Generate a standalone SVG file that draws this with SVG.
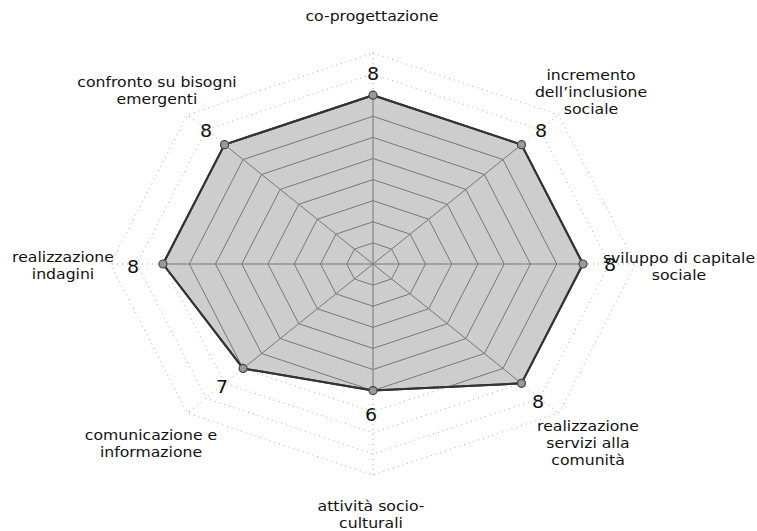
<svg xmlns="http://www.w3.org/2000/svg" xmlns:xlink="http://www.w3.org/1999/xlink" width="757" height="531" viewBox="0 0 757 531">
  <style>
    .lbl { font-family: "DejaVu Sans", "Liberation Sans", sans-serif; font-size: 14px; fill: #111; text-anchor: middle; }
    .val { font-family: "DejaVu Sans", "Liberation Sans", sans-serif; font-size: 17px; fill: #111; text-anchor: middle; }
    .grid-out { fill: none; stroke: #aaa; stroke-width: 1; stroke-dasharray: 1 4; }
    .grid-in { fill: none; stroke: #777; stroke-width: 1; }
    .area { fill: #cdcdcd; stroke: #333; stroke-width: 2; stroke-linejoin: round; }
    .dot { fill: #999; stroke: #444; stroke-width: 1.2; }
  </style>
  <defs>
    <!-- value polygon: axes clockwise from the top -->
    <polygon id="data-shape" points="373,95.2 521.49,144.64 583,264 521.49,383.36 373,390.6 243.07,368.44 163,264 224.51,144.64"/>
    <clipPath id="inside">
      <use xlink:href="#data-shape"/>
    </clipPath>
    <!-- octagonal rings 1..10 and the eight spokes -->
    <g id="web">
      <polygon points="373,242.9 391.56,249.08 399.25,264 391.56,278.92 373,285.1 354.44,278.92 346.75,264 354.44,249.08"/>
      <polygon points="373,221.8 410.12,234.16 425.5,264 410.12,293.84 373,306.2 335.88,293.84 320.5,264 335.88,234.16"/>
      <polygon points="373,200.7 428.68,219.24 451.75,264 428.68,308.76 373,327.3 317.32,308.76 294.25,264 317.32,219.24"/>
      <polygon points="373,179.6 447.25,204.32 478,264 447.25,323.68 373,348.4 298.75,323.68 268,264 298.75,204.32"/>
      <polygon points="373,158.5 465.81,189.4 504.25,264 465.81,338.6 373,369.5 280.19,338.6 241.75,264 280.19,189.4"/>
      <polygon points="373,137.4 484.37,174.48 530.5,264 484.37,353.52 373,390.6 261.63,353.52 215.5,264 261.63,174.48"/>
      <polygon points="373,116.3 502.93,159.56 556.75,264 502.93,368.44 373,411.7 243.07,368.44 189.25,264 243.07,159.56"/>
      <polygon points="373,95.2 521.49,144.64 583,264 521.49,383.36 373,432.8 224.51,383.36 163,264 224.51,144.64"/>
      <polygon points="373,74.1 540.05,129.72 609.25,264 540.05,398.28 373,453.9 205.95,398.28 136.75,264 205.95,129.72"/>
      <polygon points="373,53 558.62,114.8 635.5,264 558.62,413.2 373,475 187.38,413.2 110.5,264 187.38,114.8"/>
      <path d="M373,264 L373,53 M373,264 L558.62,114.8 M373,264 L635.5,264 M373,264 L558.62,413.2 M373,264 L373,475 M373,264 L187.38,413.2 M373,264 L110.5,264 M373,264 L187.38,114.8"/>
    </g>
  </defs>

  <!-- faint web outside the filled area -->
  <g id="grid-outer" class="grid-out">
    <use xlink:href="#web"/>
  </g>

  <!-- filled value area with the web showing through -->
  <g id="series">
    <use xlink:href="#data-shape" class="area"/>
    <g class="grid-in" clip-path="url(#inside)">
      <use xlink:href="#web"/>
    </g>
    <use xlink:href="#data-shape" fill="none" stroke="#333" stroke-width="2" stroke-linejoin="round"/>
    <g id="markers">
      <circle class="dot" cx="373" cy="95.2" r="4"/>
      <circle class="dot" cx="521.49" cy="144.64" r="4"/>
      <circle class="dot" cx="583" cy="264" r="4"/>
      <circle class="dot" cx="521.49" cy="383.36" r="4"/>
      <circle class="dot" cx="373" cy="390.6" r="4"/>
      <circle class="dot" cx="243.07" cy="368.44" r="4"/>
      <circle class="dot" cx="163" cy="264" r="4"/>
      <circle class="dot" cx="224.51" cy="144.64" r="4"/>
    </g>
  </g>

  <!-- value labels -->
  <g id="values" class="val">
    <text transform="translate(373,80) scale(1.12,1)">8</text>
    <text transform="translate(541,137) scale(1.12,1)">8</text>
    <text transform="translate(610,271) scale(1.12,1)">8</text>
    <text transform="translate(538,408) scale(1.12,1)">8</text>
    <text transform="translate(371,421) scale(1.12,1)">6</text>
    <text transform="translate(222,393) scale(1.12,1)">7</text>
    <text transform="translate(133,273) scale(1.12,1)">8</text>
    <text transform="translate(206,137) scale(1.12,1)">8</text>
  </g>

  <!-- axis category labels -->
  <g id="axis-co-progettazione" class="lbl">
    <text transform="translate(372,21) scale(1.12,1)">co-progettazione</text>
  </g>
  <g id="axis-inclusione" class="lbl">
    <text transform="translate(591,80) scale(1.12,1)"><tspan x="0" y="0">incremento</tspan><tspan x="0" y="17">dell’inclusione</tspan><tspan x="0" y="34">sociale</tspan></text>
  </g>
  <g id="axis-capitale" class="lbl">
    <text transform="translate(679,263) scale(1.12,1)"><tspan x="0" y="0">sviluppo di capitale</tspan><tspan x="0" y="17">sociale</tspan></text>
  </g>
  <g id="axis-servizi" class="lbl">
    <text transform="translate(588,431) scale(1.12,1)"><tspan x="0" y="0">realizzazione</tspan><tspan x="0" y="17">servizi alla</tspan><tspan x="0" y="34">comunità</tspan></text>
  </g>
  <g id="axis-socioculturali" class="lbl">
    <text transform="translate(371,511) scale(1.12,1)"><tspan x="0" y="0">attività socio-</tspan><tspan x="0" y="17">culturali</tspan></text>
  </g>
  <g id="axis-comunicazione" class="lbl">
    <text transform="translate(151,440) scale(1.12,1)"><tspan x="0" y="0">comunicazione e</tspan><tspan x="0" y="17">informazione</tspan></text>
  </g>
  <g id="axis-indagini" class="lbl">
    <text transform="translate(63,262) scale(1.12,1)"><tspan x="0" y="0">realizzazione</tspan><tspan x="0" y="17">indagini</tspan></text>
  </g>
  <g id="axis-confronto" class="lbl">
    <text transform="translate(157,87) scale(1.12,1)"><tspan x="0" y="0">confronto su bisogni</tspan><tspan x="0" y="17">emergenti</tspan></text>
  </g>
</svg>
